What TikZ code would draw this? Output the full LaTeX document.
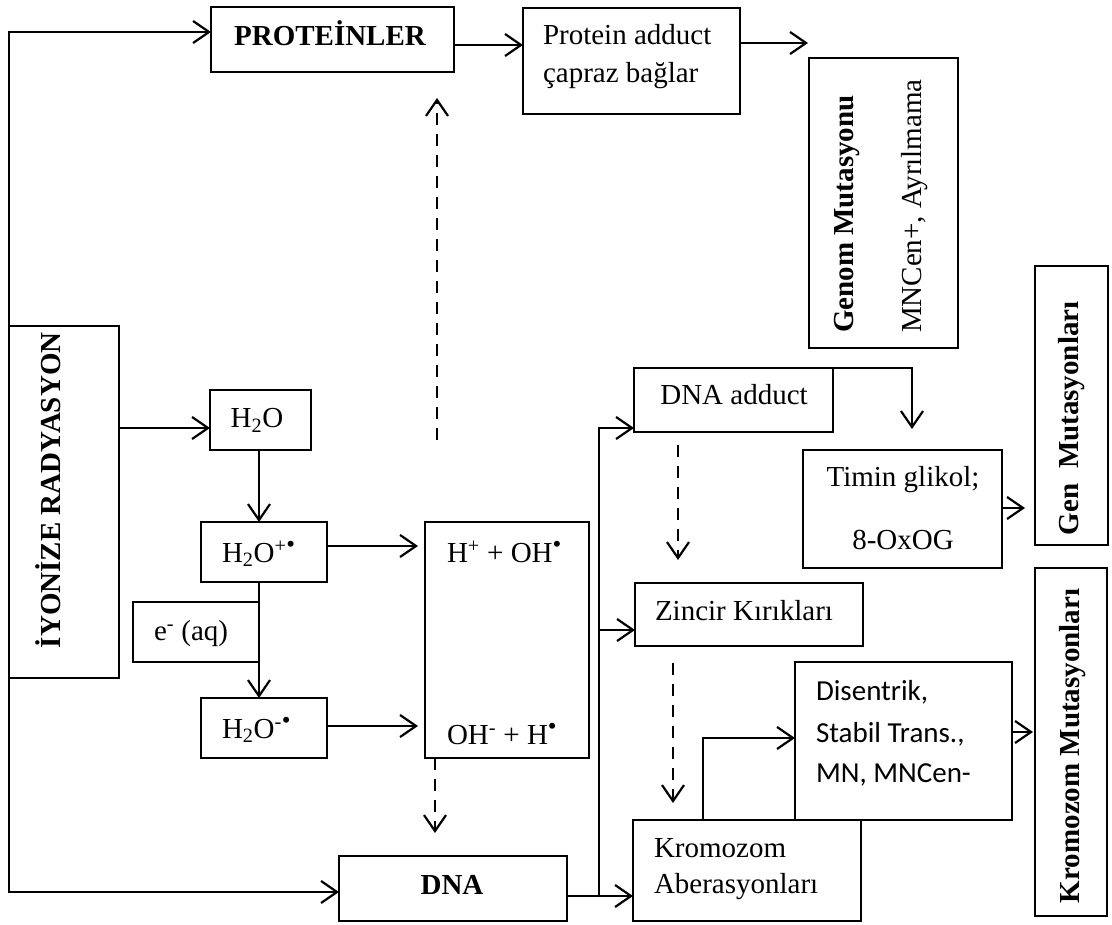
\documentclass[tikz,border=0pt]{standalone}
\usepackage{fontspec}
\setmainfont{Liberation Serif}
\newfontfamily\calib{Carlito}
\usetikzlibrary{arrows.meta}
% raised radical dot
\newcommand\rdot{\raisebox{10pt}{\fontsize{25}{25}\selectfont •}}
% box from top-left (x1,y1) to bottom-right (x2,y2)
\newcommand\mkbox[5]{\node[box, minimum width={#4-#2}, minimum height={#5-#3}] (#1) at (#2,#3) {};}
\begin{document}
\begin{tikzpicture}[x=1pt,y=-1pt,
  box/.style={draw, line width=2.2pt, inner sep=0pt, outer sep=0pt, anchor=north west},
  txt/.style={inner sep=0pt, outer sep=0pt, font=\fontsize{29}{34}\selectfont},
  btxt/.style={inner sep=0pt, outer sep=0pt, font=\bfseries\fontsize{29}{34}\selectfont},
  vtxt/.style={btxt, rotate=90, anchor=west},
  stxt/.style={inner sep=0pt, outer sep=0pt, font=\calib\fontsize{29}{34}\selectfont, anchor=base west},
  conn/.style={line width=2.2pt, -{Straight Barb[length=16pt,width=22pt]}},
  dline/.style={conn, dash pattern=on 12pt off 9pt},
]
\useasboundingbox (0,0) rectangle (1112,925);

% boxes
\mkbox{prot}{211}{7}{454}{72}
\mkbox{padd}{523}{8}{740}{114}
\mkbox{genom}{809}{58}{958}{348}
\mkbox{genmut}{1035}{266}{1108}{545}
\mkbox{krmut}{1035}{568}{1107}{916}
\mkbox{iyon}{9}{326}{119}{678}
\mkbox{h2o}{210}{390}{311}{450}
\mkbox{h2op}{201}{522}{327}{582}
\mkbox{eaq}{133}{602}{259}{662}
\mkbox{h2om}{201}{698}{327}{758}
\mkbox{hbox}{425}{522}{589}{758}
\mkbox{dna}{339}{856}{567}{921}
\mkbox{dadd}{634}{368}{833}{432}
\mkbox{timin}{803}{450}{1002}{568}
\mkbox{zincir}{635}{583}{863}{646}
\mkbox{disen}{795}{662}{1012}{820}
\mkbox{krom}{633}{820}{861}{921}

% texts
\node[btxt, anchor=base] (tprot) at (330,46) {PROTEİNLER};
\node[txt, anchor=base west] (tpadd1) at (543,45) {Protein adduct};
\node[txt, anchor=base west] (tpadd2) at (543,83) {çapraz bağlar};
\node[vtxt] (tgenom1) at (847,333) {Genom Mutasyonu};
\node[txt, rotate=90, anchor=west] (tgenom2) at (915,333) {MNCen+, Ayrılmama};
\node[vtxt] (tgenmut) at (1072,535) {Gen\ \ Mutasyonları};
\node[vtxt] (tkrmut) at (1073,903) {Kromozom Mutasyonları};
\node[vtxt] (tiyon) at (48,648) {İYONİZE RADYASYON};
\node[txt, anchor=base] (th2o) at (257,428) {H\textsubscript{2}O};
\node[txt, anchor=base west] (th2op) at (222,562) {H\textsubscript{2}O\textsuperscript{+}\rdot};
\node[txt, anchor=base west] (teaq) at (154,640) {e\textsuperscript{-} (aq)};
\node[txt, anchor=base west] (th2om) at (222,738) {H\textsubscript{2}O\textsuperscript{-}\rdot};
\node[txt, anchor=base west] (th1) at (447,562) {H\textsuperscript{+} + OH\rdot};
\node[txt, anchor=base west] (th2) at (447,744) {OH\textsuperscript{-} + H\rdot};
\node[btxt, anchor=base] (tdna) at (452,894) {DNA};
\node[txt, anchor=base] (tdadd) at (734,405) {DNA adduct};
\node[txt, anchor=base] (ttim1) at (903,486) {Timin glikol;};
\node[txt, anchor=base] (ttim2) at (903,549) {8-OxOG};
\node[txt, anchor=base west] (tzin) at (655,620) {Zincir Kırıkları};
\node[stxt] (tdis1) at (816,700) {Disentrik,};
\node[stxt] (tdis2) at (816,742) {Stabil Trans.,};
\node[stxt] (tdis3) at (816,782) {MN, MNCen-};
\node[txt, anchor=base west] (tkrom1) at (654,857) {Kromozom};
\node[txt, anchor=base west] (tkrom2) at (654,893) {Aberasyonları};

% helper coordinates
\coordinate (tl) at (9,32);
\coordinate (bl) at (9,892);
\coordinate (a1) at (0,45);
\coordinate (pend) at (808,43);
\coordinate (a2) at (0,428);
\coordinate (xw) at (259,0);
\coordinate (a3) at (0,546);
\coordinate (a4) at (0,726);
\coordinate (xd1) at (435,0);
\coordinate (ua) at (437,440);
\coordinate (ub) at (437,98);
\coordinate (a5) at (0,896);
\coordinate (vx) at (599,0);
\coordinate (a7) at (0,630);
\coordinate (xt) at (912,0);
\coordinate (xd2) at (678,0);
\coordinate (xd3) at (673,0);
\coordinate (xk) at (703,0);
\coordinate (a8) at (0,738);
\coordinate (a9) at (0,508);
\coordinate (a10) at (0,732);

% connectors
\draw[conn] (iyon.north west) -- (tl) -- (prot.west |- tl);
\draw[conn] (iyon.south west) -- (bl) -- (dna.west |- bl);
\draw[conn] (prot.east |- a1) -- (padd.west |- a1);
\draw[conn] (padd.east |- pend) -- (pend);
\draw[conn] (iyon.east |- a2) -- (h2o.west |- a2);
\draw[conn] (h2o.south -| xw) -- (h2op.north -| xw);
\draw[conn] (h2op.south -| xw) -- (h2om.north -| xw);
\draw[conn, shorten >=7pt] (h2op.east |- a3) -- (hbox.west |- a3);
\draw[conn, shorten >=7pt] (h2om.east |- a4) -- (hbox.west |- a4);
\draw[dline, shorten >=23pt] (hbox.south -| xd1) -- (dna.north -| xd1);
\draw[dline] (ua) -- (ub);
\draw[conn] (dna.east |- a5) -- (krom.west |- a5);
\draw[conn] (vx |- a5) -- (vx |- a2) -- (dadd.west |- a2);
\draw[conn] (vx |- a7) -- (zincir.west |- a7);
\draw[conn, shorten >=21pt] (dadd.north east) -- (xt |- dadd.north) -- (timin.north -| xt);
\draw[dline, shorten <=13pt, shorten >=23pt] (dadd.south -| xd2) -- (zincir.north -| xd2);
\draw[dline, shorten <=17pt, shorten >=17pt] (zincir.south -| xd3) -- (krom.north -| xd3);
\draw[conn] (krom.north -| xk) -- (xk |- a8) -- (disen.west |- a8);
\draw[conn, shorten >=10pt] (timin.east |- a9) -- (genmut.west |- a9);
\draw[conn, shorten >=2pt] (disen.east |- a10) -- (krmut.west |- a10);
\end{tikzpicture}
\end{document}
